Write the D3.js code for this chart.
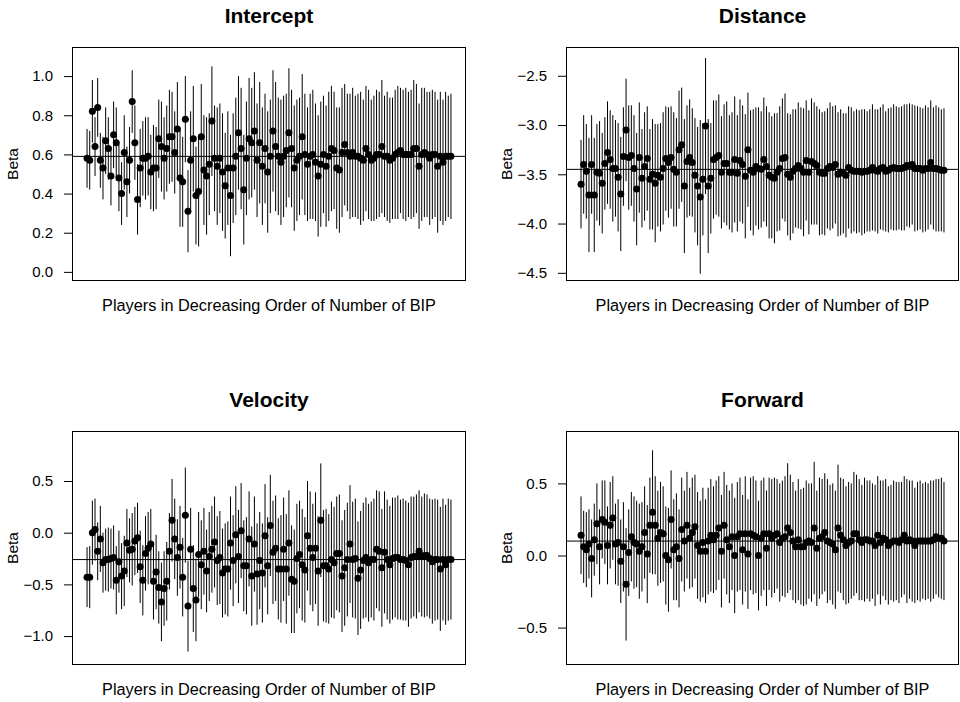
<!DOCTYPE html>
<html>
<head>
<meta charset="utf-8">
<script src="https://cdn.jsdelivr.net/npm/d3@7"></script>
<style>
  html, body { margin: 0; padding: 0; background: #fff; }
  svg { display: block; }
  text { font-family: "Liberation Sans", Arial, Helvetica, sans-serif; fill: #000; }
</style>
</head>
<body>
<svg id="chart" width="960" height="702"></svg>
<script>
// ---- Data (players in decreasing order of number of BIP) ----
const panelTitles = ["Intercept", "Distance", "Velocity", "Forward"];
const xLabel = "Players in Decreasing Order of Number of BIP";
const yLabel = "Beta";

const interceptBeta = [0.58,0.57,0.82,0.64,0.84,0.57,0.53,0.67,0.63,0.49,
 0.70,0.66,0.48,0.40,0.61,0.46,0.57,0.87,0.66,0.37,
 0.53,0.58,0.58,0.59,0.51,0.53,0.53,0.68,0.64,0.58,
 0.63,0.69,0.69,0.61,0.73,0.48,0.46,0.78,0.31,0.57,
 0.68,0.39,0.41,0.69,0.52,0.49,0.55,0.77,0.58,0.54,
 0.58,0.51,0.44,0.53,0.39,0.53,0.59,0.71,0.63,0.42,
 0.58,0.68,0.66,0.72,0.57,0.66,0.54,0.63,0.51,0.59,
 0.72,0.64,0.59,0.56,0.59,0.62,0.71,0.63,0.53,0.57,
 0.59,0.69,0.60,0.55,0.59,0.60,0.56,0.49,0.55,0.60,
 0.54,0.59,0.63,0.62,0.53,0.52,0.61,0.65,0.61,0.59,
 0.61,0.59,0.59,0.58,0.57,0.63,0.60,0.57,0.58,0.60,
 0.60,0.64,0.59,0.59,0.57,0.58,0.60,0.61,0.62,0.60,
 0.60,0.60,0.60,0.63,0.63,0.54,0.60,0.61,0.60,0.58,
 0.60,0.60,0.54,0.59,0.56,0.59,0.59,0.59];
const interceptErr = [0.15,0.15,0.16,0.15,0.15,0.14,0.16,0.17,0.16,0.15,
 0.17,0.18,0.17,0.16,0.19,0.18,0.17,0.16,0.19,0.18,
 0.20,0.19,0.21,0.20,0.19,0.22,0.21,0.20,0.23,0.21,
 0.22,0.24,0.23,0.21,0.24,0.25,0.23,0.22,0.21,0.25,
 0.27,0.25,0.28,0.27,0.28,0.30,0.26,0.28,0.27,0.30,
 0.28,0.30,0.27,0.29,0.31,0.28,0.30,0.29,0.31,0.28,
 0.29,0.31,0.28,0.30,0.29,0.31,0.30,0.28,0.31,0.29,
 0.31,0.33,0.30,0.32,0.31,0.29,0.33,0.30,0.32,0.31,
 0.30,0.32,0.31,0.29,0.32,0.33,0.30,0.31,0.32,0.30,
 0.31,0.33,0.32,0.30,0.31,0.32,0.33,0.31,0.30,0.32,
 0.33,0.31,0.32,0.34,0.31,0.32,0.33,0.31,0.32,0.33,
 0.32,0.34,0.31,0.33,0.32,0.31,0.33,0.34,0.32,0.33,
 0.34,0.32,0.33,0.35,0.33,0.32,0.34,0.33,0.32,0.34,
 0.33,0.32,0.34,0.33,0.32,0.33,0.31,0.32];

const distanceBeta = [-3.60,-3.40,-3.47,-3.71,-3.40,-3.71,-3.48,-3.49,-3.59,-3.39,
 -3.28,-3.35,-3.44,-3.44,-3.53,-3.70,-3.32,-3.05,-3.33,-3.31,
 -3.44,-3.65,-3.33,-3.54,-3.42,-3.34,-3.55,-3.50,-3.59,-3.51,
 -3.53,-3.44,-3.34,-3.38,-3.33,-3.45,-3.48,-3.25,-3.20,-3.62,
 -3.37,-3.33,-3.38,-3.51,-3.62,-3.73,-3.55,-3.01,-3.62,-3.54,
 -3.35,-3.33,-3.31,-3.48,-3.39,-3.39,-3.48,-3.48,-3.35,-3.49,
 -3.36,-3.40,-3.52,-3.25,-3.46,-3.48,-3.42,-3.44,-3.45,-3.35,
 -3.42,-3.51,-3.53,-3.54,-3.48,-3.44,-3.34,-3.33,-3.50,-3.53,
 -3.47,-3.44,-3.41,-3.44,-3.48,-3.36,-3.48,-3.37,-3.39,-3.41,
 -3.48,-3.49,-3.49,-3.44,-3.42,-3.43,-3.40,-3.50,-3.48,-3.49,
 -3.51,-3.43,-3.46,-3.47,-3.47,-3.47,-3.48,-3.47,-3.47,-3.46,
 -3.43,-3.46,-3.47,-3.44,-3.43,-3.47,-3.46,-3.44,-3.43,-3.44,
 -3.44,-3.44,-3.43,-3.41,-3.41,-3.40,-3.44,-3.44,-3.44,-3.46,
 -3.44,-3.44,-3.38,-3.44,-3.44,-3.45,-3.46,-3.46];
const distanceErr = [0.45,0.50,0.48,0.58,0.50,0.58,0.49,0.53,0.51,0.47,
 0.52,0.50,0.54,0.49,0.55,0.58,0.50,0.52,0.53,0.51,
 0.54,0.57,0.56,0.50,0.55,0.53,0.51,0.56,0.60,0.52,
 0.55,0.57,0.53,0.56,0.52,0.58,0.55,0.60,0.58,0.68,
 0.57,0.59,0.55,0.58,0.60,0.78,0.57,0.69,0.68,0.56,
 0.60,0.58,0.62,0.57,0.60,0.63,0.58,0.61,0.64,0.59,
 0.62,0.60,0.63,0.58,0.61,0.64,0.60,0.62,0.59,0.63,
 0.61,0.64,0.62,0.66,0.60,0.63,0.61,0.65,0.62,0.64,
 0.63,0.60,0.64,0.62,0.65,0.61,0.63,0.64,0.62,0.60,
 0.64,0.62,0.63,0.61,0.65,0.62,0.60,0.63,0.64,0.61,
 0.63,0.62,0.64,0.61,0.63,0.62,0.64,0.63,0.61,0.62,
 0.64,0.62,0.63,0.62,0.64,0.61,0.63,0.62,0.64,0.63,
 0.62,0.63,0.64,0.62,0.63,0.61,0.64,0.63,0.62,0.63,
 0.64,0.62,0.63,0.62,0.64,0.63,0.62,0.63];

const velocityBeta = [-0.43,-0.43,0.00,0.03,-0.18,-0.06,-0.29,-0.26,-0.26,-0.25,
 -0.24,-0.46,-0.28,-0.42,-0.37,-0.10,-0.17,-0.16,-0.08,-0.05,
 -0.33,-0.46,-0.20,-0.15,-0.11,-0.47,-0.38,-0.53,-0.67,-0.54,
 -0.47,-0.18,0.12,-0.06,-0.24,-0.14,-0.43,0.17,-0.71,-0.16,
 -0.54,-0.65,-0.21,-0.31,-0.18,-0.37,-0.23,-0.16,-0.09,-0.27,
 -0.24,-0.39,-0.35,-0.35,-0.10,-0.27,-0.02,-0.23,0.02,-0.32,
 -0.32,-0.06,-0.42,-0.11,-0.40,-0.27,-0.39,-0.03,-0.32,0.07,
 -0.19,-0.15,-0.35,-0.35,-0.16,-0.35,-0.10,-0.45,-0.47,-0.25,
 -0.21,-0.31,-0.36,-0.03,-0.15,-0.24,-0.15,-0.37,0.12,-0.32,
 -0.32,-0.35,-0.26,-0.29,-0.20,-0.20,-0.42,-0.34,-0.26,-0.11,
 -0.26,-0.25,-0.44,-0.36,-0.27,-0.24,-0.29,-0.26,-0.26,-0.16,
 -0.18,-0.34,-0.19,-0.26,-0.31,-0.25,-0.24,-0.24,-0.26,-0.26,
 -0.27,-0.31,-0.24,-0.23,-0.23,-0.18,-0.23,-0.22,-0.22,-0.25,
 -0.28,-0.26,-0.26,-0.35,-0.26,-0.31,-0.26,-0.26];
const velocityErr = [0.29,0.30,0.31,0.30,0.28,0.32,0.29,0.30,0.31,0.29,
 0.31,0.33,0.30,0.32,0.34,0.33,0.31,0.35,0.33,0.34,
 0.35,0.34,0.36,0.35,0.34,0.37,0.36,0.35,0.38,0.36,
 0.38,0.37,0.40,0.39,0.37,0.40,0.38,0.46,0.44,0.40,
 0.42,0.40,0.41,0.43,0.42,0.40,0.43,0.42,0.44,0.43,
 0.45,0.43,0.44,0.46,0.45,0.44,0.47,0.45,0.46,0.44,
 0.47,0.46,0.48,0.46,0.49,0.47,0.48,0.50,0.47,0.49,
 0.50,0.51,0.49,0.52,0.50,0.53,0.51,0.52,0.50,0.53,
 0.52,0.54,0.51,0.53,0.55,0.52,0.54,0.53,0.55,0.54,
 0.55,0.53,0.56,0.54,0.55,0.57,0.54,0.56,0.55,0.57,
 0.56,0.58,0.55,0.57,0.56,0.58,0.57,0.56,0.59,0.57,
 0.58,0.57,0.59,0.58,0.57,0.59,0.58,0.60,0.58,0.59,
 0.58,0.60,0.59,0.58,0.60,0.59,0.58,0.60,0.59,0.58,
 0.60,0.59,0.58,0.60,0.59,0.58,0.59,0.58];

const forwardBeta = [0.14,0.06,0.04,0.08,-0.02,0.11,0.22,0.06,0.25,0.23,
 0.07,0.21,0.26,0.08,0.09,-0.04,0.06,-0.20,0.02,0.13,
 0.09,0.08,0.03,0.06,0.16,0.01,0.21,0.30,0.21,0.12,
 0.16,0.15,0.00,-0.03,0.25,0.04,0.06,-0.02,0.18,0.10,
 0.21,0.12,0.16,0.20,0.07,0.03,0.09,0.03,0.10,0.14,
 0.11,0.14,0.19,0.03,0.21,0.11,0.06,0.13,0.00,0.13,
 0.15,0.04,0.15,0.01,0.15,0.14,0.13,0.00,0.12,0.15,
 0.05,0.15,0.12,0.14,0.15,0.09,0.12,0.13,0.19,0.16,
 0.10,0.06,0.11,0.06,0.06,0.09,0.10,0.09,0.19,0.05,
 0.12,0.13,0.16,0.10,0.09,0.08,0.04,0.19,0.14,0.11,
 0.07,0.09,0.10,0.15,0.15,0.11,0.09,0.11,0.11,0.10,
 0.10,0.07,0.14,0.09,0.12,0.11,0.07,0.09,0.10,0.10,
 0.09,0.11,0.14,0.10,0.11,0.10,0.07,0.10,0.10,0.10,
 0.10,0.10,0.10,0.11,0.13,0.12,0.12,0.10];
const forwardErr = [0.27,0.25,0.26,0.24,0.27,0.25,0.28,0.26,0.27,0.29,
 0.27,0.30,0.29,0.28,0.30,0.29,0.31,0.39,0.30,0.31,
 0.32,0.30,0.33,0.31,0.32,0.34,0.33,0.43,0.34,0.33,
 0.35,0.33,0.34,0.36,0.34,0.35,0.37,0.34,0.36,0.35,
 0.37,0.35,0.38,0.36,0.37,0.35,0.38,0.36,0.37,0.39,
 0.37,0.38,0.36,0.39,0.37,0.38,0.39,0.37,0.40,0.38,
 0.39,0.38,0.40,0.38,0.39,0.41,0.39,0.38,0.40,0.39,
 0.40,0.39,0.41,0.40,0.38,0.41,0.40,0.42,0.45,0.40,
 0.41,0.39,0.42,0.40,0.41,0.43,0.40,0.41,0.46,0.40,
 0.42,0.40,0.41,0.43,0.40,0.42,0.41,0.44,0.40,0.42,
 0.41,0.42,0.40,0.43,0.41,0.42,0.40,0.43,0.41,0.42,
 0.40,0.42,0.41,0.43,0.40,0.42,0.41,0.40,0.42,0.41,
 0.42,0.40,0.41,0.43,0.41,0.42,0.40,0.41,0.42,0.40,
 0.41,0.40,0.42,0.41,0.40,0.41,0.42,0.41];

// overall (pooled) reference lines
const referenceLines = [0.59, -3.45, -0.26, 0.10];

// y-axis tick values and visible ranges
const interceptTicks = [0.0, 0.2, 0.4, 0.6, 0.8, 1.0];
const distanceTicks = [-4.5, -4.0, -3.5, -3.0, -2.5];
const velocityTicks = [-1.0, -0.5, 0.0, 0.5];
const forwardTicks = [-0.5, 0.0, 0.5];
const interceptRange = [-0.044, 1.146];
const distanceRange = [-4.578, -2.213];
const velocityRange = [-1.275, 0.979];
const forwardRange = [-0.756, 0.860];

// ---- Build panels ----
const panels = [
  { title: panelTitles[0], beta: interceptBeta, err: interceptErr, ref: referenceLines[0], ticks: interceptTicks, yr: interceptRange },
  { title: panelTitles[1], beta: distanceBeta, err: distanceErr, ref: referenceLines[1], ticks: distanceTicks, yr: distanceRange },
  { title: panelTitles[2], beta: velocityBeta, err: velocityErr, ref: referenceLines[2], ticks: velocityTicks, yr: velocityRange },
  { title: panelTitles[3], beta: forwardBeta, err: forwardErr, ref: referenceLines[3], ticks: forwardTicks, yr: forwardRange }
];

const boxes = [
  { x: 72.5, y: 47.5, w: 393, h: 233 },
  { x: 566.5, y: 47.5, w: 392, h: 233 },
  { x: 72.5, y: 431.5, w: 393, h: 233 },
  { x: 566.5, y: 431.5, w: 392, h: 233 }
];

const svg = d3.select("#chart");
svg.append("rect").attr("width", 960).attr("height", 702).attr("fill", "#fff");

const fmt = d3.format(".1f");

panels.forEach((p, k) => {
  const b = boxes[k];
  const n = p.beta.length;
  const pad = 0.04 * (n - 1);
  const x = d3.scaleLinear().domain([1 - pad, n + pad]).range([b.x, b.x + b.w]);
  const y = d3.scaleLinear().domain(p.yr).range([b.y + b.h, b.y]);

  const g = svg.append("g");

  // error bars
  g.append("g").selectAll("line")
    .data(p.beta)
    .join("line")
    .attr("x1", (d, i) => x(i + 1))
    .attr("x2", (d, i) => x(i + 1))
    .attr("y1", (d, i) => y(d - p.err[i]))
    .attr("y2", (d, i) => y(d + p.err[i]))
    .attr("stroke", "#000")
    .attr("stroke-width", 1);

  // reference line
  g.append("line")
    .attr("x1", b.x).attr("x2", b.x + b.w)
    .attr("y1", y(p.ref)).attr("y2", y(p.ref))
    .attr("stroke", "#000").attr("stroke-width", 1);

  // points
  g.append("g").selectAll("circle")
    .data(p.beta)
    .join("circle")
    .attr("cx", (d, i) => x(i + 1))
    .attr("cy", d => y(d))
    .attr("r", 3.5)
    .attr("fill", "#000");

  // box
  g.append("rect")
    .attr("x", b.x).attr("y", b.y).attr("width", b.w).attr("height", b.h)
    .attr("fill", "none").attr("stroke", "#000").attr("stroke-width", 1);

  // y axis
  const ax = g.append("g")
    .attr("transform", `translate(${b.x},0)`)
    .call(d3.axisLeft(y).tickValues(p.ticks).tickFormat(fmt).tickSize(8.5).tickPadding(11).tickSizeOuter(0));
  ax.select(".domain").remove();
  ax.selectAll(".tick line").attr("stroke", "#000");
  ax.selectAll(".tick text").attr("font-size", 15).attr("font-family", '"Liberation Sans", Arial, Helvetica, sans-serif').attr("fill", "#000");

  // title
  g.append("text")
    .attr("x", b.x + b.w / 2)
    .attr("y", b.y - 25)
    .attr("text-anchor", "middle")
    .attr("font-size", 21)
    .attr("font-weight", "bold")
    .text(p.title);

  // x label
  g.append("text")
    .attr("x", b.x + b.w / 2)
    .attr("y", b.y + b.h + 30.5)
    .attr("text-anchor", "middle")
    .attr("font-size", 16.3)
    .text(xLabel);

  // y label
  g.append("text")
    .attr("transform", `translate(${b.x - 54.8},${b.y + b.h / 2}) rotate(-90)`)
    .attr("text-anchor", "middle")
    .attr("font-size", 15.5)
    .text(yLabel);
});
</script>
</body>
</html>
